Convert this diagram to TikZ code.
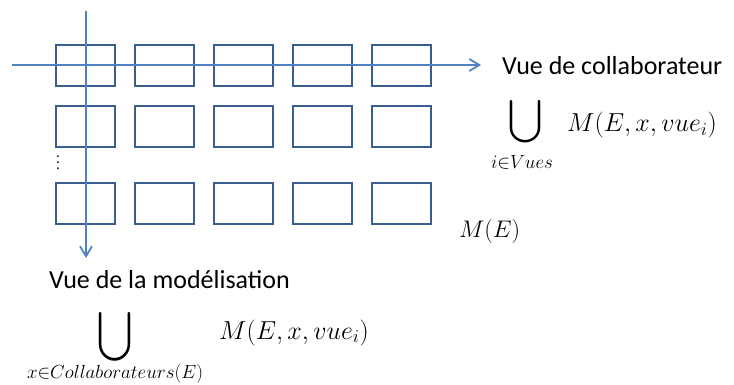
\RequirePackage{fix-cm}
\documentclass[tikz,border=0pt]{standalone}
\usepackage{fontspec}
\usepackage{graphicx}
\setmainfont{Carlito}
\usetikzlibrary{arrows.meta}
\definecolor{boxblue}{RGB}{58,94,143}
\definecolor{arrblue}{RGB}{80,129,192}
\begin{document}
\begin{tikzpicture}[x=1pt,y=-1pt,
  cell/.style={draw=boxblue,line width=2pt,minimum width=59pt,minimum height=41pt,inner sep=0pt},
  axis/.style={draw=arrblue,line width=1.8pt,-{Straight Barb[length=10pt,width=12pt]}},
  lbl/.style={inner sep=0pt,anchor=base west,font=\fontsize{26}{30}\selectfont},
  sub/.style={inner sep=0pt,anchor=base,font=\fontsize{19}{22}\selectfont},
  uni/.style={inner sep=0pt,font=\fontsize{30}{30}\selectfont}
  ]
\useasboundingbox (0,0) rectangle (734,385);
\foreach \r/\y in {1/65.5,2/126.5,3/203.5}
  \foreach \c/\x in {1/85,2/164,3/243,4/322,5/401}
    \node[cell] (b\r\c) at (\x,\y) {};
\coordinate (hs) at (12,65);
\coordinate (he) at (481,65);
\coordinate (vs) at (86,11);
\coordinate (ve) at (86,258);
\draw[axis] (hs) -- (he);
\draw[axis] (vs) -- (ve);
\node[inner sep=0pt,align=center,font=\fontsize{15}{6}\selectfont] (dots) at (58,163) {.\\.\\.};
\node[lbl] (vcol) at (502,75) {Vue de collaborateur};
\node[uni] (u1) at (525,122) {\resizebox{34pt}{47pt}{$\displaystyle\bigcup$}};
\node[sub] (s1) at (522,168) {$i{\in}Vues$};
\node[lbl] (m1) at (567,132) {$M(E,x,vue_i)$};
\node[lbl,font=\fontsize{24}{28}\selectfont] (me) at (459,237) {$M(E)$};
\node[lbl] (vmod) at (49,288) {Vue de la modélisation};
\node[uni] (u2) at (115.5,337) {\resizebox{35pt}{54pt}{$\displaystyle\bigcup$}};
\node[sub] (s2) at (115,378) {$x{\in}Collaborateurs(E)$};
\node[lbl] (m2) at (219,339) {$M(E,x,vue_i)$};
\end{tikzpicture}
\end{document}
